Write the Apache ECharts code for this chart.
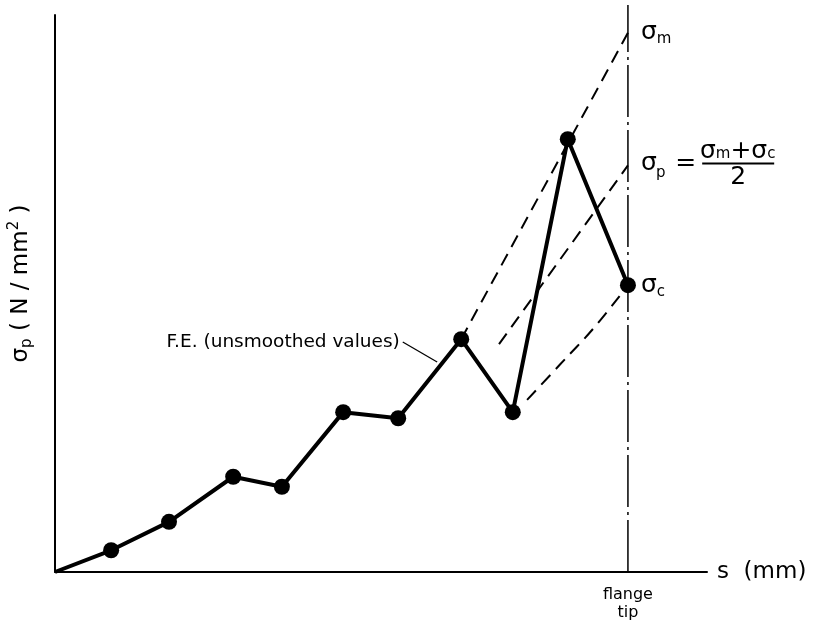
<!DOCTYPE html>
<html><head><meta charset="utf-8">
<script src="https://cdn.jsdelivr.net/npm/echarts@6/dist/echarts.min.js"></script>
<style>html,body{margin:0;padding:0;background:#fff}#c{width:819px;height:628px}</style>
</head><body><div id="c"></div>
<script>
// Position along flange s (arbitrary units, flange tip = 10)
const sPos = [0, 0.98, 1.99, 3.11, 3.96, 5.03, 5.99, 7.09, 7.99, 8.95, 10];
// F.E. unsmoothed sigma_p values (arbitrary units)
const sigmaFE = [0, 3.9, 9.0, 17.1, 15.3, 28.7, 27.6, 41.8, 28.7, 77.7, 51.5];
// sigma_m extrapolation (dashed)
const sigmaMX = [7.09, 10];
const sigmaMY = [41.8, 96.8];
// sigma_p = (sigma_m + sigma_c)/2 (dashed)
const sigmaPX = [7.75, 10];
const sigmaPY = [40.9, 73.0];
// sigma_c extrapolation (dashed curve)
const sigmaCX = [8.24, 8.81, 9.42, 10];
const sigmaCY = [30.9, 37.2, 44.0, 51.5];
// flange tip line
const flangeX = [10, 10];
const flangeY = [0, 101.8];
// leader line for the F.E. label
const leaderX = [6.07, 6.67];
const leaderY = [41.3, 37.7];
const xTickValues = [10];
const xTickLabels = ['flange\ntip'];

const zip = (a, b) => a.map((v, i) => [v, b[i]]);
const FONT = 'DejaVu Sans';
const sub = {fontFamily: FONT, fontSize: 15, color: '#000', lineHeight: 14, verticalAlign: 'bottom'};
const big = {fontFamily: FONT, fontSize: 25, color: '#000'};
const hidden = {color: 'rgba(0,0,0,0)', borderWidth: 0};

const feData = zip(sPos, sigmaFE).map((p, i) => {
  const d = {value: p};
  if (i === 0) d.symbol = 'none';
  if (i === sPos.length - 1) {
    d.label = {show: true, position: 'right', distance: 5,
      formatter: '{a|σ}{s|c}',
      rich: {a: Object.assign({}, big, {lineHeight: 28}), s: Object.assign({}, sub, {lineHeight: 12})}};
  }
  return d;
});

const mData = zip(sigmaMX, sigmaMY).map((p, i) => {
  const d = {value: p};
  if (i === sigmaMX.length - 1) {
    d.label = {show: true, position: 'right', distance: 12,
      formatter: '{a|σ}{s|m}',
      rich: {a: Object.assign({}, big, {lineHeight: 28}), s: Object.assign({}, sub, {lineHeight: 12})}};
  }
  return d;
});

const pData = zip(sigmaPX, sigmaPY).map((p, i) => {
  const d = {value: p};
  if (i === sigmaPX.length - 1) {
    d.label = {show: true, position: 'right', distance: 12,
      formatter: '{pad1|}{n|σ}{ns|m}{n|+σ}{ns|c}\n{l|σ}{gap|}{eq|=}{bar|}\n{padp|}{ls|p}{pad2|}{den|2}',
      rich: {
        pad1: {width: 59, lineHeight: 20},
        n: Object.assign({}, big, {lineHeight: 20}),
        ns: Object.assign({}, sub, {lineHeight: 10}),
        l: Object.assign({}, big, {lineHeight: 4, width: 15, align: 'left'}),
        gap: {width: 12, lineHeight: 4},
        eq: Object.assign({}, big, {lineHeight: 4, width: 33, align: 'center'}),
        bar: {width: 72, height: 2, backgroundColor: '#000', lineHeight: 4},
        padp: {width: 15, lineHeight: 12},
        ls: Object.assign({}, sub, {lineHeight: 12, width: 12, align: 'left', verticalAlign: 'top'}),
        pad2: {width: 33, lineHeight: 24},
        den: Object.assign({}, big, {lineHeight: 24, width: 72, align: 'center', verticalAlign: 'middle'})
      }};
  }
  return d;
});

const leaderData = zip(leaderX, leaderY).map((p, i) => {
  const d = {value: p};
  if (i === 0) {
    d.label = {show: true, position: 'left', distance: 2, formatter: 'F.E. (unsmoothed values)',
      fontFamily: FONT, fontSize: 18.5, color: '#000'};
  }
  return d;
});

const dashed = {color: '#000', width: 2, type: [13, 8]};

const chart = echarts.init(document.getElementById('c'), null, {renderer: 'canvas'});
chart.setOption({
  backgroundColor: '#fff',
  animation: false,
  grid: {left: 55, top: 15, width: 652, height: 557, containLabel: false, outerBoundsMode: 'none'},
  xAxis: {
    type: 'value', min: 0, max: 11.38,
    name: 's  (mm)', nameLocation: 'end', nameGap: 10,
    nameTextStyle: {fontFamily: FONT, fontSize: 23, color: '#000', verticalAlign: 'middle'},
    axisLine: {show: true, lineStyle: {color: '#000', width: 2}},
    axisTick: {show: false},
    splitLine: {show: false},
    axisLabel: {show: true, customValues: xTickValues, margin: 14,
      formatter: v => xTickLabels[xTickValues.indexOf(v)] || '',
      fontFamily: FONT, fontSize: 16, lineHeight: 18, color: '#000'}
  },
  yAxis: {
    type: 'value', min: 0, max: 100,
    name: '{a|σ}{s|p}{a| ( N / mm}{t|2}{a| )}', nameLocation: 'middle', nameGap: 20,
    nameTextStyle: {padding: [0, 0, 0, 20],
      rich: {
        a: {fontFamily: FONT, fontSize: 23, color: '#000', lineHeight: 28},
        s: {fontFamily: FONT, fontSize: 15, color: '#000', lineHeight: 10, verticalAlign: 'bottom'},
        t: {fontFamily: FONT, fontSize: 15, color: '#000', lineHeight: 12, verticalAlign: 'top'}
      }},
    axisLine: {show: true, lineStyle: {color: '#000', width: 2}},
    axisTick: {show: false},
    splitLine: {show: false},
    axisLabel: {show: false}
  },
  series: [
    {type: 'line', name: 'flange tip', data: zip(flangeX, flangeY), symbol: 'none', clip: false,
      lineStyle: {color: '#000', width: 1.5, type: [52, 5, 3, 5]}, z: 1},
    {type: 'line', name: 'sigma_m', data: mData, symbol: 'circle', symbolSize: 2, itemStyle: hidden, lineStyle: dashed, z: 1},
    {type: 'line', name: 'sigma_p', data: pData, symbol: 'circle', symbolSize: 2, itemStyle: hidden, lineStyle: dashed, z: 1},
    {type: 'line', name: 'sigma_c', data: zip(sigmaCX, sigmaCY), symbol: 'none', smooth: 0.4, lineStyle: dashed, z: 1},
    {type: 'line', name: 'leader', data: leaderData, symbol: 'circle', symbolSize: 2, itemStyle: hidden, lineStyle: {color: '#000', width: 1.3}, z: 2},
    {type: 'line', name: 'F.E.', data: feData, symbol: 'circle', symbolSize: 16,
      itemStyle: {color: '#000'}, lineStyle: {color: '#000', width: 4}, z: 3}
  ]
});
</script></body></html>
